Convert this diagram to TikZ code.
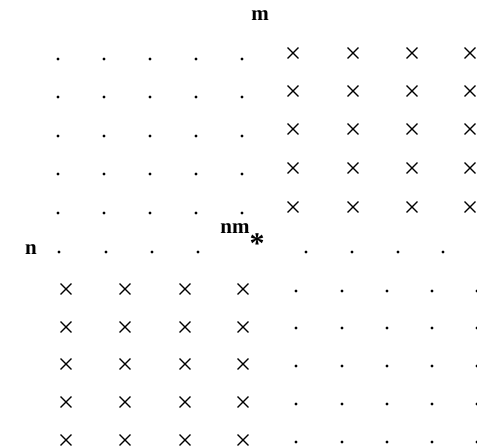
\documentclass[tikz,border=0pt]{standalone}
\usepackage{fontspec}
\setmainfont{Liberation Serif}
\usetikzlibrary{positioning, shapes.misc}
\tikzset{
    dotmark/.style={circle, fill=black, inner sep=0pt, minimum size=3.2pt},
    crossmark/.style={cross out, draw=black, line width=1.4pt, inner sep=0pt, minimum size=9.5pt},
    letter/.style={inner sep=0pt, font=\fontsize{21}{22}\selectfont\bfseries},
    starmark/.style={inner sep=0pt, font=\fontsize{30}{30}\selectfont\bfseries}
}
\begin{document}
\begin{tikzpicture}[x=1pt, y=-1pt]
    \useasboundingbox (0,0) rectangle (477,446);
    \node[letter] (m) at (260,16) {m};
    % upper block
    \foreach \i/\x in {1/58,2/104,3/150,4/196,5/242}
        \foreach \j/\y in {1/59,2/97,3/136,4/174,5/213}
            \node[dotmark] (ud-\i-\j) at (\x,\y) {};
    \foreach \i/\x in {1/293,2/353,3/412,4/470}
        \foreach \j/\y in {1/53,2/91,3/129,4/168,5/207}
            \node[crossmark] (ux-\i-\j) at (\x,\y) {};
    % middle row
    \node[letter] (n) at (31,250) {n};
    \foreach \i/\x in {1/59,2/106,3/152,4/198,5/306,6/352,7/398,8/443}
        \node[dotmark] (md-\i) at (\x,252) {};
    \node[letter] (nm) at (235,229) {nm};
    \node[starmark] (star) at (257,244) {*};
    % lower block
    \foreach \i/\x in {1/66,2/125,3/185,4/243}
        \foreach \j/\y in {1/289,2/327,3/364,4/402,5/440}
            \node[crossmark] (lx-\i-\j) at (\x,\y) {};
    \foreach \i/\x in {1/296,2/342,3/387,4/432,5/477}
        \foreach \j/\y in {1/291,2/328,3/366,4/404,5/442}
            \node[dotmark] (ld-\i-\j) at (\x,\y) {};
\end{tikzpicture}
\end{document}
